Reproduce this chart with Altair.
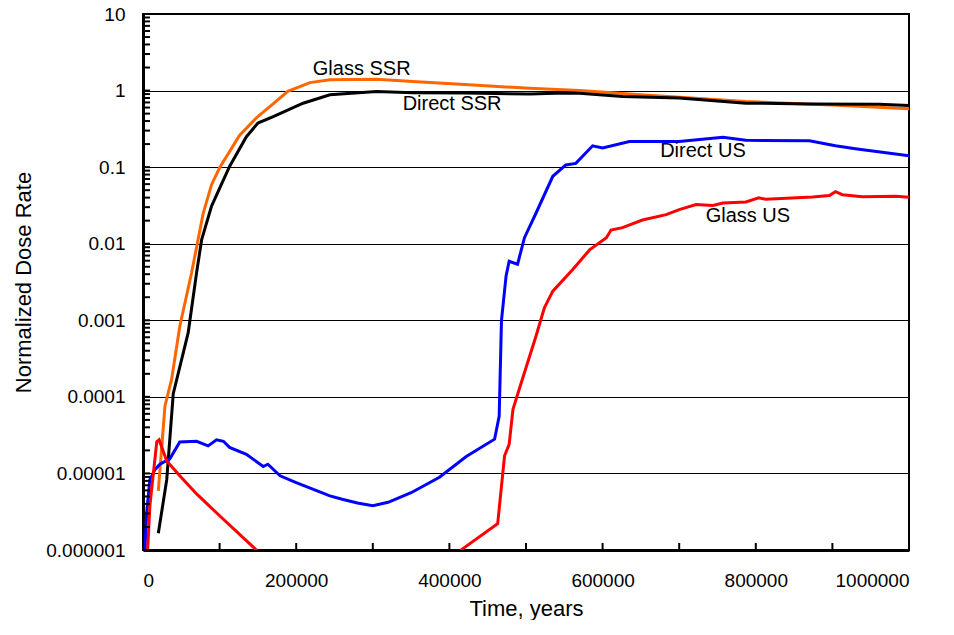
import altair as alt
import pandas as pd

# ---- data (time in years, normalized dose rate) ----
glass_ssr_x = [20000, 28700, 37400, 48000, 63500, 78600, 89500, 100000, 126000, 148000,
               166000, 189000, 218000, 244000, 305000, 352000, 420000, 505000, 570000,
               650000, 787000, 900000, 1000000]
glass_ssr_y = [5.9e-6, 7.6e-5, 1.7e-4, 8.3e-4, 4.2e-3, 0.025, 0.059, 0.098, 0.26, 0.44,
               0.62, 0.98, 1.27, 1.38, 1.41, 1.31, 1.2, 1.07, 1.0,
               0.88, 0.72, 0.65, 0.58]

direct_ssr_x = [20000, 31000, 39500, 59000, 70000, 76500, 89500, 113000, 135000, 150000,
                170000, 209000, 244000, 305000, 352000, 420000, 505000, 550000, 570000,
                626000, 700000, 787000, 870000, 961000, 1000000]
direct_ssr_y = [1.65e-6, 8.3e-6, 1.1e-4, 6.9e-4, 4.2e-3, 0.0112, 0.031, 0.102, 0.25, 0.376,
                0.457, 0.684, 0.88, 0.97, 0.94, 0.93, 0.90, 0.93, 0.92,
                0.836, 0.80, 0.685, 0.67, 0.665, 0.638]

direct_us_x = [1000, 2600, 4800, 9000, 15600, 22000, 35000, 48000, 70000, 85000, 96000,
               105000, 113000, 135000, 157000, 163000, 179000, 200000, 244000, 260000,
               280000, 300000, 320000, 350000, 387000, 422000, 459000, 465000, 468000,
               474000, 478000, 489000, 498000, 513000, 535000, 552000, 565000, 587000,
               600000, 635000, 700000, 757000, 787000, 870000, 904000, 930000, 1000000]
direct_us_y = [5e-7, 1.0e-6, 3.1e-6, 8.3e-6, 1.12e-5, 1.32e-5, 1.55e-5, 2.57e-5, 2.63e-5,
               2.29e-5, 2.75e-5, 2.63e-5, 2.19e-5, 1.78e-5, 1.23e-5, 1.32e-5, 9.3e-6,
               7.6e-6, 5.1e-6, 4.6e-6, 4.1e-6, 3.8e-6, 4.2e-6, 5.6e-6, 8.9e-6, 1.66e-5,
               2.8e-5, 5.6e-5, 1.0e-3, 3.8e-3, 5.9e-3, 5.4e-3, 0.012, 0.025, 0.076, 0.107,
               0.112, 0.19, 0.178, 0.216, 0.216, 0.245, 0.224, 0.221, 0.19, 0.174, 0.141]

glass_us_x = [4000, 9000, 18000, 21000, 31000, 48000, 70000, 100000, 148000, 250000,
              330000, 415000, 463000, 472000, 478000, 483000, 494000, 513000, 524000,
              535000, 561000, 583000, 605000, 611000, 626000, 652000, 683000, 700000,
              722000, 744000, 757000, 787000, 804000, 813000, 874000, 896000, 904000,
              913000, 939000, 983000, 1000000]
glass_us_y = [4e-7, 3.8e-6, 2.6e-5, 2.75e-5, 1.45e-5, 9.3e-6, 5.4e-6, 2.8e-6, 1.0e-6, 1e-7,
              1e-7, 1.0e-6, 2.2e-6, 1.7e-5, 2.4e-5, 6.9e-5, 1.55e-4, 6.2e-4, 1.45e-3,
              2.4e-3, 4.6e-3, 8.3e-3, 0.012, 0.0151, 0.0162, 0.0204, 0.024, 0.0279,
              0.0324, 0.0316, 0.0339, 0.0351, 0.0398, 0.038, 0.0407, 0.0427, 0.0479,
              0.0437, 0.0411, 0.0417, 0.0403]

series_names = ["Glass SSR", "Direct SSR", "Direct US", "Glass US"]
series_colors = ["#FF6600", "#000000", "#0000FF", "#FF0000"]

label_text = ["Glass SSR", "Direct SSR", "Direct US", "Glass US"]
label_x = [285500, 403500, 731000, 789700]
label_y = [1.92, 0.671, 0.164, 0.0232]

x_tick_values = list(range(0, 1000001, 100000))
y_tick_values = [m * 10.0 ** e for e in range(-6, 1) for m in range(1, 10)] + [10.0]

# ---- build tables ----
rows = []
for name, xs, ys in zip(series_names,
                        [glass_ssr_x, direct_ssr_x, direct_us_x, glass_us_x],
                        [glass_ssr_y, direct_ssr_y, direct_us_y, glass_us_y]):
    for i, (x, y) in enumerate(zip(xs, ys)):
        rows.append({"series": name, "time": x, "dose": y, "order": i})
df = pd.DataFrame(rows)
labels_df = pd.DataFrame({"text": label_text, "time": label_x, "dose": label_y})
xticks_df = pd.DataFrame({"time": x_tick_values})
yticks_df = pd.DataFrame({"dose": y_tick_values})

FONT = "Liberation Sans"
decade = "abs(log(datum.value)/LN10 - round(log(datum.value)/LN10)) < 0.001"
H = 536
TICK = 7

x_scale = alt.Scale(domain=[0, 1000000], nice=False, zero=False)
y_scale = alt.Scale(type="log", domain=[1e-6, 10], nice=False)

x_axis = alt.Axis(
    title="Time, years",
    values=x_tick_values,
    labelExpr="datum.value % 200000 === 0 ? format(datum.value, 'd') : ''",
    grid=False,
    ticks=False,
    domainColor="black",
    domainWidth=3,
    labelFont=FONT, labelFontSize=19, labelColor="black",
    labelPadding=21, labelOverlap=False,
    titleFont=FONT, titleFontSize=22, titleFontWeight="normal", titleColor="black",
    titlePadding=8,
)
y_axis = alt.Axis(
    title="Normalized Dose Rate",
    values=y_tick_values,
    labelExpr=decade + " ? format(datum.value, '.6~f') : ''",
    grid=True,
    gridColor="black",
    gridWidth=1,
    gridOpacity={"condition": {"test": decade, "value": 1}, "value": 0},
    ticks=False,
    domainColor="black",
    domainWidth=3,
    labelFont=FONT, labelFontSize=19, labelColor="black",
    labelPadding=18, labelOverlap=False,
    titleFont=FONT, titleFontSize=22, titleFontWeight="normal", titleColor="black",
    titlePadding=10,
)

lines = alt.Chart(df).mark_line(strokeWidth=3, clip=True).encode(
    x=alt.X("time:Q", scale=x_scale, axis=x_axis),
    y=alt.Y("dose:Q", scale=y_scale, axis=y_axis),
    color=alt.Color("series:N", scale=alt.Scale(domain=series_names, range=series_colors), legend=None),
    detail="series:N",
    order="order:Q",
)

texts = alt.Chart(labels_df).mark_text(font=FONT, fontSize=20, color="black",
                                       align="center", baseline="middle").encode(
    x=alt.X("time:Q", scale=x_scale),
    y=alt.Y("dose:Q", scale=y_scale),
    text="text:N",
)

# inward ticks (like the original chart's axis ticks)
y_ticks = alt.Chart(yticks_df).mark_rule(color="black", strokeWidth=2).encode(
    y=alt.Y("dose:Q", scale=y_scale),
    x=alt.value(0),
    x2=alt.value(TICK),
)
x_ticks = alt.Chart(xticks_df).mark_rule(color="black", strokeWidth=2).encode(
    x=alt.X("time:Q", scale=x_scale),
    y=alt.value(H),
    y2=alt.value(H - TICK),
)

chart = alt.layer(lines, texts, y_ticks, x_ticks).properties(
    width=766, height=H,
    autosize=alt.AutoSizeParams(type="none"),
    padding={"left": 135, "top": 6, "right": 30, "bottom": 70},
    background="white",
).configure_view(stroke="black", strokeWidth=2)

chart.save("out.html", embed_options={"renderer": "svg", "actions": False})
